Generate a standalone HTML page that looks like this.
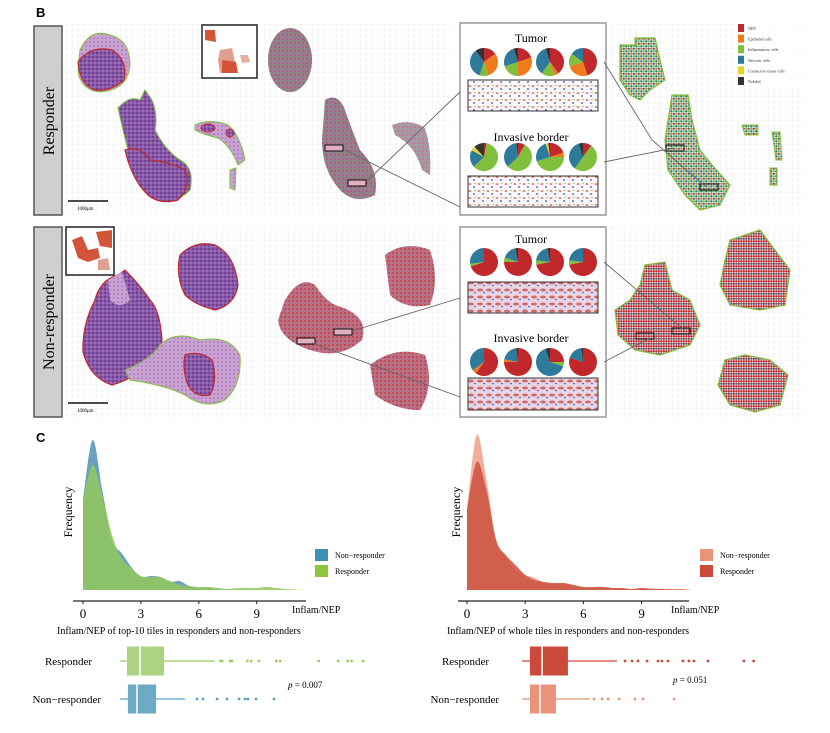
<!DOCTYPE html>
<html><head><meta charset="utf-8">
<style>
body{margin:0;background:#fff;}
svg{display:block;}
.serif{font-family:"Liberation Serif",serif;}
.sans{font-family:"Liberation Sans",sans-serif;}
</style></head>
<body>
<svg id="fig" width="830" height="733" viewBox="0 0 830 733" xmlns="http://www.w3.org/2000/svg">
<defs>
<pattern id="grid" width="6" height="6" patternUnits="userSpaceOnUse"><path d="M6 0H0V6" fill="none" stroke="#e2e2e2" stroke-width="0.6"/></pattern>
<pattern id="he" width="4" height="4" patternUnits="userSpaceOnUse"><rect width="4" height="4" fill="#8a5aa8"/><circle cx="1" cy="1" r="0.9" fill="#5b2d8a"/><circle cx="3" cy="3" r="0.7" fill="#b58ac8"/></pattern>
<pattern id="hel" width="4" height="4" patternUnits="userSpaceOnUse"><rect width="4" height="4" fill="#c9a2d2"/><circle cx="2" cy="2" r="0.8" fill="#9a6ab8"/></pattern>
<pattern id="mixR" width="4" height="4" patternUnits="userSpaceOnUse"><rect width="4" height="4" fill="#9a7a9a"/><circle cx="1" cy="1" r="0.8" fill="#6aa040"/><circle cx="3" cy="3" r="0.8" fill="#b04a5a"/></pattern>
<pattern id="mixN" width="4" height="4" patternUnits="userSpaceOnUse"><rect width="4" height="4" fill="#c66a78"/><circle cx="1" cy="1" r="0.8" fill="#9a3040"/><circle cx="3" cy="3" r="0.7" fill="#8a8ac0"/></pattern>
<pattern id="dotsR" width="5" height="5" patternUnits="userSpaceOnUse"><rect width="5" height="5" fill="#fff"/><circle cx="1.3" cy="1.3" r="1.2" fill="#2e7a9a"/><circle cx="3.8" cy="1.3" r="1.2" fill="#7fbf3b"/><circle cx="1.3" cy="3.8" r="1.2" fill="#f07b1a"/><circle cx="3.8" cy="3.8" r="1.2" fill="#2e7a9a"/></pattern>
<pattern id="dotsN" width="5" height="5" patternUnits="userSpaceOnUse"><rect width="5" height="5" fill="#fff"/><circle cx="1.3" cy="1.3" r="1.2" fill="#c0282b"/><circle cx="3.8" cy="1.3" r="1.2" fill="#c0282b"/><circle cx="1.3" cy="3.8" r="1.2" fill="#2e7a9a"/><circle cx="3.8" cy="3.8" r="1.2" fill="#c0282b"/></pattern>
<pattern id="cellsR" width="9" height="7" patternUnits="userSpaceOnUse"><rect width="9" height="7" fill="#fbf8fb"/><ellipse cx="2" cy="2" rx="1.5" ry="0.8" fill="#d9615a"/><ellipse cx="6" cy="5" rx="1.2" ry="0.9" fill="#6a6ac0"/><circle cx="7" cy="1.5" r="0.7" fill="#7fbf3b"/></pattern>
<pattern id="cellsN" width="9" height="7" patternUnits="userSpaceOnUse"><rect width="9" height="7" fill="#e9d6e4"/><ellipse cx="3" cy="3" rx="3" ry="1.5" fill="#d06a6a"/><ellipse cx="7" cy="5.5" rx="1.2" ry="0.8" fill="#6a6ac0"/></pattern>
</defs>

<text x="36" y="17" class="sans" font-size="13" font-weight="bold">B</text>

<g>
<rect x="34" y="26" width="28" height="189" fill="#cfcfcf" stroke="#555" stroke-width="1.5"/>
<text transform="translate(54,121) rotate(-90)" text-anchor="middle" class="serif" font-size="16">Responder</text>
</g>
<g>
<rect x="34" y="227" width="28" height="190" fill="#cfcfcf" stroke="#555" stroke-width="1.5"/>
<text transform="translate(54,322) rotate(-90)" text-anchor="middle" class="serif" font-size="16">Non-responder</text>
</g>

<rect x="65" y="23" width="193" height="192" fill="url(#grid)"/>
<rect x="262" y="23" width="188" height="192" fill="url(#grid)"/>
<rect x="610" y="23" width="193" height="192" fill="url(#grid)"/>
<rect x="65" y="227" width="193" height="192" fill="url(#grid)"/>
<rect x="262" y="227" width="188" height="192" fill="url(#grid)"/>
<rect x="610" y="227" width="193" height="192" fill="url(#grid)"/>

<g>
<path d="M80 50 Q90 28 110 35 Q130 40 130 65 Q128 90 100 92 Q80 90 78 70Z" fill="url(#hel)" stroke="#7fbf3b" stroke-width="1"/>
<path d="M78 62 Q90 45 112 50 Q128 60 124 80 Q110 92 95 90 Q80 85 78 62Z" fill="url(#he)" stroke="#c0282b" stroke-width="1.2"/>
<path d="M118 108 Q130 95 140 100 L145 90 L152 100 Q158 115 155 130 Q165 150 180 160 Q195 168 190 190 Q175 205 160 200 Q140 190 132 165 Q125 140 118 108Z" fill="url(#he)" stroke="#7fbf3b" stroke-width="1"/>
<path d="M125 150 Q140 145 150 160 Q170 162 185 170 Q192 185 178 200 Q160 205 148 195 Q132 180 125 150Z" fill="url(#he)" stroke="#c0282b" stroke-width="1.2"/>
<path d="M195 125 Q210 118 228 125 Q240 135 245 160 L238 165 Q230 145 218 138 Q205 135 195 130Z" fill="url(#hel)" stroke="#7fbf3b" stroke-width="1"/>
<ellipse cx="208" cy="128" rx="7" ry="4" fill="url(#he)" stroke="#c0282b"/>
<ellipse cx="230" cy="133" rx="4" ry="4" fill="url(#he)" stroke="#c0282b"/>
<path d="M230 170 L236 168 L235 190 L230 188Z" fill="url(#hel)" stroke="#7fbf3b"/>
</g>
<g>
<rect x="202" y="25" width="55" height="53" fill="#fff" stroke="#222" stroke-width="1.5"/>
<path d="M205 30 L215 30 L216 42 L205 40Z" fill="#d2553a"/>
<path d="M220 50 L232 48 L236 66 L238 73 L220 73 L218 60Z" fill="#e0a090"/>
<path d="M222 60 L236 62 L238 73 L222 73Z" fill="#d2553a"/>
<path d="M240 55 L248 55 L250 62 L242 63Z" fill="#e8b0a0"/>
</g>
<g>
<line x1="68" y1="201" x2="108" y2="201" stroke="#111" stroke-width="1.5"/>
<text x="77" y="210" class="serif" font-size="5">1000μm</text>
</g>

<g>
<ellipse cx="290" cy="60" rx="22" ry="32" fill="url(#mixR)"/>
<path d="M325 100 Q338 92 345 110 Q352 130 360 150 Q380 170 375 195 Q355 205 340 190 Q322 170 322 140Z" fill="url(#mixR)"/>
<path d="M392 125 Q410 118 425 128 Q432 150 430 175 L422 170 Q415 145 395 135Z" fill="url(#mixR)" opacity="0.8"/>
<rect x="325" y="145" width="18" height="6" fill="#e0b0c0" stroke="#111" stroke-width="1"/>
<rect x="348" y="180" width="18" height="6" fill="#e0b0c0" stroke="#111" stroke-width="1"/>
</g>

<g>
<path d="M95 300 Q100 280 118 275 L125 270 Q140 285 150 300 Q160 310 162 340 Q160 360 150 365 Q130 380 112 385 Q90 378 83 352 Q82 325 95 300Z" fill="url(#he)" stroke="#c0282b" stroke-width="1.2"/>
<path d="M108 280 L122 272 L130 300 Q120 310 110 300Z" fill="url(#hel)"/>
<path d="M180 255 Q195 240 215 245 Q235 255 238 285 Q235 305 215 310 Q195 305 185 295 Q175 275 180 255Z" fill="url(#he)" stroke="#c0282b" stroke-width="1.2"/>
<path d="M160 345 Q175 330 200 340 Q230 335 240 355 Q242 385 225 400 Q205 410 185 395 Q165 385 130 380 L125 370 Q150 360 160 345Z" fill="url(#hel)" stroke="#7fbf3b" stroke-width="1"/>
<path d="M185 355 Q200 350 212 360 Q218 380 210 395 Q195 398 188 385 Q182 370 185 355Z" fill="url(#he)" stroke="#c0282b" stroke-width="1.2"/>
</g>
<g>
<rect x="66" y="227" width="48" height="48" fill="#fff" stroke="#222" stroke-width="1.5"/>
<path d="M72 240 L82 236 L88 250 L98 248 L100 258 L88 262 L78 258Z" fill="#d2553a"/>
<path d="M96 232 L112 230 L112 248 L100 246Z" fill="#d2553a"/>
<path d="M98 260 L108 258 L110 270 L98 270Z" fill="#e0a090"/>
</g>
<g>
<line x1="68" y1="403" x2="108" y2="403" stroke="#111" stroke-width="1.5"/>
<text x="77" y="412" class="serif" font-size="5">1000μm</text>
</g>

<g>
<path d="M285 300 Q300 275 315 285 Q325 300 335 305 Q370 315 362 340 Q340 360 310 350 Q280 340 278 320Z" fill="url(#mixN)"/>
<path d="M385 255 Q405 240 430 250 Q440 280 430 305 Q405 310 390 295Z" fill="url(#mixN)"/>
<path d="M370 365 Q395 345 425 355 Q435 385 420 410 Q395 410 375 395Z" fill="url(#mixN)"/>
<rect x="297" y="338" width="18" height="6" fill="#e0b0c0" stroke="#111" stroke-width="1"/>
<rect x="334" y="329" width="18" height="6" fill="#e0b0c0" stroke="#111" stroke-width="1"/>
</g>

<g>
<path d="M620 45 L635 45 L635 38 L655 38 L660 60 L665 80 L650 90 L640 100 L630 95 L620 80Z" fill="url(#dotsR)" stroke="#7fbf3b" stroke-width="1.2"/>
<path d="M672 95 L688 95 L692 120 L700 150 L712 165 L730 185 L720 205 L700 210 L685 195 L668 170 L665 140Z" fill="url(#dotsR)" stroke="#7fbf3b" stroke-width="1.2"/>
<path d="M742 125 L758 125 L758 135 L745 135Z" fill="url(#dotsR)" stroke="#7fbf3b"/>
<path d="M772 132 L780 132 L782 160 L776 160Z" fill="url(#dotsR)" stroke="#7fbf3b"/>
<path d="M770 168 L777 168 L777 185 L770 185Z" fill="url(#dotsR)" stroke="#7fbf3b"/>
<rect x="666" y="145" width="18" height="6" fill="none" stroke="#111" stroke-width="1"/>
<rect x="700" y="184" width="18" height="6" fill="none" stroke="#111" stroke-width="1"/>
</g>
<g>
<path d="M645 265 L665 262 L672 290 L690 300 L700 325 L690 345 L660 355 L635 350 L618 335 L615 310 L630 300 L640 285Z" fill="url(#dotsN)" stroke="#7fbf3b" stroke-width="1.2"/>
<path d="M730 240 L760 230 L775 250 L790 270 L785 305 L760 310 L730 305 L720 285 L725 260Z" fill="url(#dotsN)" stroke="#7fbf3b" stroke-width="1.2"/>
<path d="M725 360 L745 355 L770 360 L788 375 L780 405 L755 412 L730 405 L718 385Z" fill="url(#dotsN)" stroke="#7fbf3b" stroke-width="1.2"/>
<rect x="636" y="333" width="18" height="6" fill="none" stroke="#111" stroke-width="1"/>
<rect x="672" y="328" width="18" height="6" fill="none" stroke="#111" stroke-width="1"/>
</g>

<g id="celllegend"></g>

<g>
<rect x="460" y="23" width="146" height="192" fill="#fff" stroke="#999" stroke-width="1.5"/>
<text x="531" y="42" text-anchor="middle" class="serif" font-size="12">Tumor</text>
<rect x="468" y="80" width="130" height="31" fill="url(#cellsR)" stroke="#333"/>
<text x="531" y="141" text-anchor="middle" class="serif" font-size="12">Invasive border</text>
<rect x="468" y="176" width="130" height="31" fill="url(#cellsR)" stroke="#333"/>
</g>
<g>
<rect x="460" y="227" width="146" height="190" fill="#fff" stroke="#999" stroke-width="1.5"/>
<text x="531" y="243" text-anchor="middle" class="serif" font-size="12">Tumor</text>
<rect x="468" y="282" width="130" height="31" fill="url(#cellsN)" stroke="#333"/>
<text x="531" y="342" text-anchor="middle" class="serif" font-size="12">Invasive border</text>
<rect x="468" y="378" width="130" height="32" fill="url(#cellsN)" stroke="#333"/>
</g>
<g id="pies"></g>

<g stroke="#666" stroke-width="0.9">
<line x1="345" y1="150" x2="460" y2="207"/><line x1="366" y1="182" x2="460" y2="92"/>
<polyline points="604,62 652,140 706,187" fill="none"/><line x1="604" y1="162" x2="674" y2="148"/>
<line x1="352" y1="331" x2="460" y2="298"/><line x1="312" y1="343" x2="460" y2="397"/>
<line x1="604" y1="262" x2="684" y2="330"/><line x1="604" y1="362" x2="650" y2="338"/>
</g>

<text x="36" y="442" class="sans" font-size="13" font-weight="bold">C</text>
<g id="charts"></g>
</svg>

<script>
// ---------- chart data ----------
const xGrid = [0,0.5,1,1.5,2,2.5,3,3.5,4,4.5,5,5.5,6,6.5,7,7.5,8,8.5,9,9.5,10,10.5,11,11.5];
const densTopNonResp = [0.90,1.50,1.00,0.50,0.37,0.23,0.13,0.14,0.13,0.08,0.09,0.04,0.02,0.02,0.01,0.005,0,0,0,0,0,0,0,0];
const densTopResp    = [0.90,1.25,0.95,0.55,0.32,0.22,0.14,0.13,0.13,0.09,0.05,0.04,0.03,0.03,0.02,0.01,0.02,0.02,0.02,0.03,0.02,0.01,0.005,0];
const densWholeNonResp = [0.80,1.55,1.10,0.50,0.32,0.20,0.15,0.12,0.07,0.06,0.06,0.05,0.03,0.02,0.03,0.02,0.015,0.01,0.02,0.015,0.01,0.01,0.01,0.005];
const densWholeResp    = [0.80,1.28,1.00,0.50,0.35,0.25,0.15,0.10,0.08,0.07,0.07,0.05,0.03,0.03,0.03,0.02,0.02,0.01,0.02,0.01,0.01,0.005,0.005,0];
const xTicks = [0,3,6,9];
const boxGroups = ["Responder","Non\u2212responder"];
// [whiskerLow, q1, median, q3, whiskerHigh]
const boxTopResp = [0,0.36,1.04,2.28,4.9];
const boxTopNonResp = [0,0.41,0.88,1.87,3.37];
const outTopResp = [5.2,5.3,5.7,5.8,6.6,6.8,7.2,8.1,8.3,10.3,11.3,11.8,12.0,12.6];
const outTopNonResp = [3.99,4.3,5.03,5.54,6.17,6.48,6.63,7.05,7.98];
const boxWholeResp = [0,0.41,1.04,2.38,4.92];
const boxWholeNonResp = [0,0.41,0.93,1.76,3.52];
const outWholeResp = [5.34,5.70,6.01,6.48,7.05,7.25,7.56,8.34,8.65,8.91,9.64,11.5,12.0];
const outWholeNonResp = [3.73,4.15,4.46,5.03,5.85,6.27,7.88];
const pValues = ["p = 0.007","p = 0.051"];
const cellTypes = ["NEP","Epithelial cells","Inflammatory cells","Necrotic cells","Connective tissue cells","Nolabel"];
const cellColors = ["#c0282b","#f07b1a","#7fbf3b","#2e7a9a","#e8d52a","#333333"];
const piesRespTumor = [[0.15,0.3,0.1,0.35,0,0.1],[0.2,0.3,0.2,0.25,0,0.05],[0.4,0.05,0.15,0.35,0,0.05],[0.45,0.25,0.15,0.15,0,0]];
const piesRespBorder = [[0.03,0,0.6,0.2,0.05,0.12],[0.08,0,0.55,0.35,0,0.02],[0.2,0.05,0.45,0.25,0.03,0.02],[0.1,0,0.5,0.35,0,0.05]];
const piesNonTumor = [[0.7,0,0.03,0.27,0,0],[0.75,0,0.05,0.17,0,0.03],[0.72,0,0.05,0.2,0,0.03],[0.72,0,0.05,0.23,0,0]];
const piesNonBorder = [[0.6,0.05,0,0.35,0,0],[0.75,0.03,0,0.2,0,0.02],[0.25,0,0.05,0.65,0,0.05],[0.8,0,0,0.18,0,0.02]];

const NS="http://www.w3.org/2000/svg";
function mk(tag,attrs,parent){const e=document.createElementNS(NS,tag);for(const k in attrs)e.setAttribute(k,attrs[k]);parent.appendChild(e);return e;}
const charts=document.getElementById('charts');

const pieG=document.getElementById('pies');
const pieCx=[484,518,550,583];
function drawPies(sets,cy,label){
  sets.forEach((fr,i)=>{
    let a=-Math.PI/2; const r=14, cx=pieCx[i];
    fr.forEach((f,j)=>{
      if(f<=0)return;
      const a2=a+f*2*Math.PI;
      const large=f>0.5?1:0;
      const p=mk('path',{d:`M${cx} ${cy}L${cx+r*Math.cos(a)} ${cy+r*Math.sin(a)}A${r} ${r} 0 ${large} 1 ${cx+r*Math.cos(a2)} ${cy+r*Math.sin(a2)}Z`,fill:cellColors[j]},pieG);
      
      
      a=a2;
    });
  });
}
drawPies(piesRespTumor,62,'responder-tumor-pie');
drawPies(piesRespBorder,157,'responder-border-pie');
drawPies(piesNonTumor,262,'non-responder-tumor-pie');
drawPies(piesNonBorder,362,'non-responder-border-pie');

const cl=document.getElementById('celllegend');
mk('rect',{x:735,y:24,width:66,height:64,fill:'#fff',opacity:0.9},cl);
cellTypes.forEach((t,i)=>{
  const y=24+i*10.6;
  const r=mk('rect',{x:738,y:y,width:6,height:8,fill:cellColors[i]},cl);
  
  
  const tx=mk('text',{x:748,y:y+6,'font-size':4,'font-family':'Liberation Serif, serif',fill:'#333'},cl);
  tx.textContent=t;
  
  
});

function drawChart(o){
  const g=mk('g',{},charts);
  
  
  const xs=v=>o.x0+v*o.pxu, ys=v=>590-v*100;
  [[o.dA,o.cA],[o.dB,o.cB]].forEach(([d,c],k)=>{
    const pts=xGrid.map((x,i)=>[xs(x),ys(d[i])]);
    let path=`M${pts[0][0]} 590L${pts[0][0]} ${pts[0][1]}`;
    for(let i=0;i<pts.length-1;i++){
      const p0=pts[Math.max(0,i-1)],p1=pts[i],p2=pts[i+1],p3=pts[Math.min(pts.length-1,i+2)];
      const c1x=p1[0]+(p2[0]-p0[0])/6, c1y=Math.min(590,p1[1]+(p2[1]-p0[1])/6);
      const c2x=p2[0]-(p3[0]-p1[0])/6, c2y=Math.min(590,p2[1]-(p3[1]-p1[1])/6);
      path+=`C${c1x} ${c1y} ${c2x} ${c2y} ${p2[0]} ${p2[1]}`;
    }
    path+=`L${pts[pts.length-1][0]} 590Z`;
    const p=mk('path',{d:path,fill:c},g);
    
    
  });
  const ax=mk('line',{x1:o.axL,y1:601,x2:o.axR,y2:601,stroke:'#222','stroke-width':1.3},g);
  
  
  xTicks.forEach(t=>{
    mk('line',{x1:xs(t),y1:601,x2:xs(t),y2:604,stroke:'#222'},g);
    const tx=mk('text',{x:xs(t),y:618,'text-anchor':'middle','font-size':13,'font-family':'Liberation Serif, serif'},g);
    tx.textContent=t;
    
    
  });
  const u=mk('text',{x:o.unitX,y:613,'font-size':10,'font-family':'Liberation Serif, serif'},g);u.textContent='Inflam/NEP';
  
  
  const ti=mk('text',{x:o.titleX,y:634,'font-size':10,'font-family':'Liberation Serif, serif'},g);ti.textContent=o.title;
  
  
  const fy=mk('text',{transform:`translate(${o.freqX},512) rotate(-90)`,'text-anchor':'middle','font-size':12,'font-family':'Liberation Serif, serif'},g);fy.textContent='Frequency';
  
  
  [[o.legA,o.cA2],[o.legB,o.cB2]].forEach(([t,c],i)=>{
    const y=549+i*16;
    const r=mk('rect',{x:o.legX,y:y,width:13,height:12,fill:c},g);
    
    
    const tx=mk('text',{x:o.legX+20,y:y+9,'font-size':8,'font-family':'Liberation Serif, serif'},g);tx.textContent=t;
    
    
  });
  const bx=v=>o.bx0+v*19.3;
  [[o.boxR,o.outR,o.bcR,o.wcR,661],[o.boxN,o.outN,o.bcN,o.wcN,699]].forEach(([b,out,bc,wc,cy],i)=>{
    const lab=mk('text',{x:o.labX[i],y:cy+4,'text-anchor':'end','font-size':11,'font-family':'Liberation Serif, serif'},g);lab.textContent=boxGroups[i];
    
    
    mk('line',{x1:bx(b[0]),y1:cy,x2:bx(b[4]),y2:cy,stroke:wc,'stroke-width':1.2},g);
    const r=mk('rect',{x:bx(b[1]),y:cy-14.5,width:bx(b[3])-bx(b[1]),height:29,fill:bc},g);
    
    
    mk('line',{x1:bx(b[2]),y1:cy-14.5,x2:bx(b[2]),y2:cy+14.5,stroke:'#fff','stroke-width':1.5},g);
    out.forEach(v=>{
      const c=mk('circle',{cx:bx(v),cy:cy,r:1.4,fill:wc},g);
      
      
    });
  });
  const pv=mk('text',{x:o.pX,y:o.pY,'font-size':9,'font-family':'Liberation Serif, serif'},g);
  pv.innerHTML='<tspan font-style="italic">p</tspan>'+pValues[o.pi].slice(1);
  
  
}
drawChart({name:'top10-chart',x0:83,pxu:19.3,dA:densTopNonResp,dB:densTopResp,cA:'rgba(80,145,180,0.85)',cB:'rgba(145,200,90,0.85)',
  axL:73,axR:306,unitX:292,titleX:57,title:'Inflam/NEP of top-10 tiles in responders and non-responders',freqX:72,
  legX:315,legA:'Non\u2212responder',legB:'Responder',cA2:'#3d8fb6',cB2:'#8cc63f',
  bx0:120,boxR:boxTopResp,outR:outTopResp,boxN:boxTopNonResp,outN:outTopNonResp,bcR:'#acd284',wcR:'#9ccd62',bcN:'#6eaac8',wcN:'#5aa0c4',
  labX:[92,101],pX:288,pY:688,pi:0});
drawChart({name:'whole-tiles-chart',x0:467,pxu:19.4,dA:densWholeNonResp,dB:densWholeResp,cA:'rgba(238,160,135,0.85)',cB:'rgba(205,80,62,0.85)',
  axL:458,axR:689,unitX:671,titleX:447,title:'Inflam/NEP of whole tiles in responders and non-responders',freqX:460,
  legX:700,legA:'Non\u2212responder',legB:'Responder',cA2:'#e99478',cB2:'#cc4a3c',
  bx0:522,boxR:boxWholeResp,outR:outWholeResp,boxN:boxWholeNonResp,outN:outWholeNonResp,bcR:'#cc4a3c',wcR:'#cc4a3c',bcN:'#e8937a',wcN:'#e8937a',
  labX:[489,499],pX:673,pY:683,pi:1});
</script>
</body></html>
